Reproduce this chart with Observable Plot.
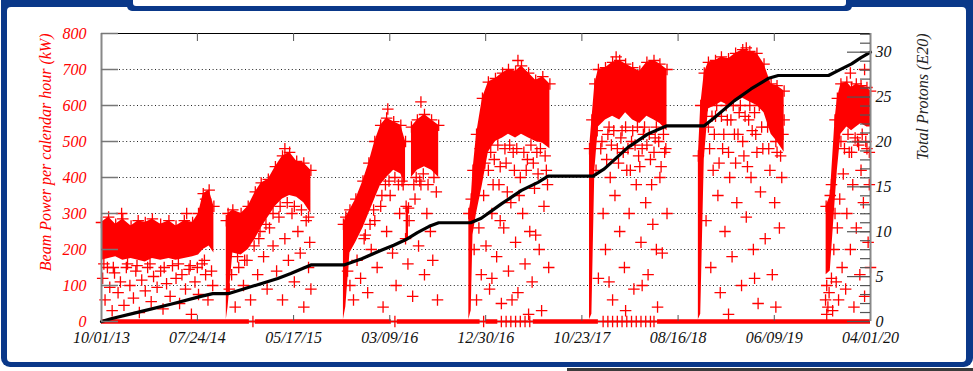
<!DOCTYPE html>
<html><head><meta charset="utf-8">
<script src="https://cdn.jsdelivr.net/npm/d3@7"></script>
<script src="https://cdn.jsdelivr.net/npm/@observablehq/plot@0.6"></script>
<style>
html,body{margin:0;padding:0;background:#fff;}
#wrap{position:relative;width:973px;height:371px;overflow:hidden;background:#fff;}
.b{position:absolute;}
#chart{position:absolute;left:0;top:0;}
</style></head><body>
<div id="wrap">
<div class="b" style="left:1px;top:-10px;width:972px;height:377px;background:#0a3889;border-radius:9px"></div>
<div class="b" style="left:7px;top:7px;width:959px;height:355px;background:#fff;border-radius:4px"></div>
<div class="b" style="left:127px;top:-8px;width:725px;height:19px;background:#0a3889;border-radius:5px"></div>
<div class="b" style="left:133px;top:-8px;width:713px;height:14px;background:#fff;border-radius:3px"></div>
<div class="b" style="left:567px;top:368px;width:406px;height:3px;background:#3b3b3b"></div>
<div id="chart"></div>
</div>
<script>
// ---- tick labels / axes values ----
const tickLabels = ["10/01/13","07/24/14","05/17/15","03/09/16","12/30/16","10/23/17","08/16/18","06/09/19","04/01/20"];
const powerTicks = [0,100,200,300,400,500,600,700,800];
const gridLevels = [100,200,300,400,500,600,700];
const protonTicks = [0,5,10,15,20,25,30];
const protonMinorTicks = [0,1,2,3,4,5,6,7,8,9,10,11,12,13,14,15,16,17,18,19,20,21,22,23,24,25,26,27,28,29,30,31,32];
const powerMax = 800;
const protonMax = 32.08;
const leftTitle = "Beam Power per calendar hour (kW)";
const rightTitle = "Total Protons (E20)";

// ---- dense beam-power core per run: [time (fractional year), low kW, high kW] ----
const run1Core = [[2013.75,170,275],[2013.81,175,290],[2013.87,180,270],[2013.93,170,285],[2014.00,175,265],[2014.06,170,280],[2014.12,165,275],[2014.18,175,285],[2014.25,170,270],[2014.32,175,280],[2014.38,170,265],[2014.45,175,280],[2014.52,180,275],[2014.57,185,300],[2014.61,200,355],[2014.66,210,365],[2014.70,190,320]];
const run2Core = [[2014.805,5,280],[2014.82,40,300],[2014.86,190,310],[2014.93,185,300],[2014.99,200,320],[2015.05,230,360],[2015.10,260,385],[2015.16,290,395],[2015.22,320,430],[2015.28,340,460],[2015.34,350,470],[2015.40,345,445],[2015.46,330,440],[2015.52,300,420]];
const run3aCore = [[2015.795,5,270],[2015.815,40,290],[2015.85,190,310],[2015.90,220,340],[2015.96,260,390],[2016.01,300,440],[2016.06,340,500],[2016.11,380,545],[2016.16,400,565],[2016.22,420,555],[2016.28,410,545],[2016.32,380,500]];
const run3bCore = [[2016.325,230,320],[2016.345,225,315]];
const run3cCore = [[2016.37,400,540],[2016.42,420,560],[2016.48,430,575],[2016.54,420,560],[2016.60,400,545]];
const run4Core = [[2016.855,5,300],[2016.875,30,340],[2016.89,240,420],[2016.92,300,520],[2016.97,380,620],[2017.02,470,665],[2017.08,500,675],[2017.14,510,690],[2017.19,520,700],[2017.25,510,695],[2017.30,520,710],[2017.36,510,690],[2017.42,500,670],[2017.48,495,680],[2017.54,480,660]];
const run5Core = [[2017.875,5,480],[2017.895,20,560],[2017.92,420,660],[2017.95,540,700],[2018.01,560,705],[2018.07,570,720],[2018.13,560,725],[2018.18,580,715],[2018.24,560,705],[2018.30,550,695],[2018.36,570,720],[2018.42,560,725],[2018.47,550,715],[2018.53,530,700]];
const run6Core = [[2018.795,5,460],[2018.815,20,600],[2018.845,450,690],[2018.88,590,720],[2018.94,600,725],[2018.99,610,735],[2019.05,600,730],[2019.11,610,745],[2019.17,620,755],[2019.23,610,750],[2019.29,600,745],[2019.35,580,715],[2019.41,520,660],[2019.46,500,655],[2019.52,470,640]];
const run7Core = [[2019.875,130,320],[2019.91,140,350],[2019.95,330,560],[2019.97,420,620],[2020.00,520,660],[2020.05,540,665],[2020.09,530,650],[2020.13,540,660],[2020.17,550,655],[2020.22,540,650],[2020.25,540,640]];

// ---- sparse beam-power points: [time, kW] ----
const run1Points = [[2013.76,120],[2013.78,60],[2013.80,150],[2013.82,95],[2013.84,30],[2013.86,135],[2013.89,80],[2013.91,110],[2013.94,45],[2013.96,150],[2013.99,100],[2014.02,65],[2014.04,140],[2014.07,25],[2014.09,115],[2014.12,85],[2014.14,150],[2014.17,55],[2014.19,125],[2014.22,95],[2014.25,140],[2014.27,35],[2014.30,105],[2014.33,70],[2014.35,155],[2014.38,120],[2014.41,50],[2014.43,130],[2014.46,90],[2014.49,145],[2014.51,20],[2014.54,110],[2014.57,75],[2014.60,160],[2014.63,130],[2014.65,60],[2014.68,140],[2014.69,100],[2013.92,300],[2014.47,300],[2014.63,340],[2013.77,160],[2013.85,150],[2013.97,160],[2014.05,155],[2014.16,160],[2014.28,150],[2014.40,160],[2014.50,155],[2014.62,170],[2014.56,150]];
const run2Points = [[2014.83,90],[2014.85,130],[2014.88,40],[2014.91,150],[2014.95,100],[2014.98,170],[2015.01,60],[2015.04,210],[2015.07,130],[2015.09,250],[2015.12,180],[2015.15,90],[2015.17,260],[2015.20,210],[2015.23,140],[2015.25,290],[2015.28,60],[2015.30,230],[2015.33,170],[2015.36,300],[2015.38,110],[2015.41,250],[2015.43,190],[2015.46,40],[2015.48,280],[2015.50,150],[2015.51,220],[2015.52,90],[2015.30,480],[2015.20,300],[2015.26,320],[2015.32,330],[2015.38,320],[2015.44,310],[2015.50,290],[2015.14,270],[2015.08,230],[2014.96,170],[2014.90,180]];
const run3Points = [[2015.83,140],[2015.85,100],[2015.88,60],[2015.91,170],[2015.94,120],[2015.97,230],[2016.00,80],[2016.03,200],[2016.06,280],[2016.08,150],[2016.11,320],[2016.13,40],[2016.16,250],[2016.19,350],[2016.21,190],[2016.24,100],[2016.27,300],[2016.30,380],[2016.32,230],[2016.34,160],[2016.35,280],[2016.38,70],[2016.40,340],[2016.43,210],[2016.45,380],[2016.48,130],[2016.50,300],[2016.53,250],[2016.55,170],[2016.58,360],[2016.59,60],[2016.17,590],[2016.45,610],[2016.12,350],[2016.15,380],[2016.18,390],[2016.23,400],[2016.26,380],[2016.29,390],[2016.39,380],[2016.41,400],[2016.44,390],[2016.47,410],[2016.51,380],[2016.56,400],[2015.98,240],[2016.02,270],[2016.05,310]];
const run4Points = [[2016.90,200],[2016.92,60],[2016.94,260],[2016.96,130],[2016.98,350],[2017.00,210],[2017.02,420],[2017.03,90],[2017.05,300],[2017.07,450],[2017.09,180],[2017.11,380],[2017.13,50],[2017.15,260],[2017.17,440],[2017.19,140],[2017.21,330],[2017.23,470],[2017.25,220],[2017.27,80],[2017.29,400],[2017.31,300],[2017.33,160],[2017.35,450],[2017.37,250],[2017.39,110],[2017.41,370],[2017.43,470],[2017.45,200],[2017.47,30],[2017.49,320],[2017.51,420],[2017.53,150],[2017.27,725],[2016.95,480],[2016.99,440],[2017.04,470],[2017.06,380],[2017.10,490],[2017.12,430],[2017.16,480],[2017.18,360],[2017.20,490],[2017.24,420],[2017.26,480],[2017.28,350],[2017.32,470],[2017.34,420],[2017.38,490],[2017.40,440],[2017.44,410],[2017.46,480],[2017.50,460],[2017.52,380],[2017.05,120],[2017.22,60],[2017.36,20],[2017.42,240],[2017.12,280]];
const run5Points = [[2017.93,420],[2017.95,120],[2017.97,480],[2017.99,300],[2018.01,200],[2018.03,520],[2018.05,400],[2018.07,60],[2018.09,350],[2018.11,480],[2018.13,250],[2018.15,530],[2018.17,150],[2018.19,420],[2018.21,300],[2018.23,500],[2018.25,90],[2018.27,380],[2018.29,460],[2018.31,220],[2018.33,520],[2018.35,330],[2018.37,130],[2018.39,450],[2018.41,270],[2018.43,510],[2018.45,40],[2018.47,400],[2018.49,190],[2018.51,470],[2018.53,300],[2018.10,735],[2017.94,530],[2017.98,500],[2018.02,450],[2018.04,540],[2018.06,490],[2018.08,530],[2018.12,440],[2018.14,510],[2018.16,470],[2018.18,540],[2018.20,480],[2018.22,420],[2018.24,530],[2018.26,490],[2018.28,540],[2018.30,430],[2018.32,480],[2018.34,540],[2018.36,490],[2018.38,520],[2018.40,380],[2018.42,470],[2018.44,540],[2018.46,500],[2018.48,430],[2018.50,520],[2018.52,480],[2018.04,110],[2018.18,30],[2018.32,100],[2018.44,200]];
const run6Points = [[2018.86,280],[2018.88,540],[2018.90,150],[2018.92,420],[2018.94,570],[2018.96,350],[2018.98,80],[2019.00,480],[2019.02,250],[2019.04,560],[2019.06,400],[2019.08,180],[2019.10,520],[2019.12,330],[2019.14,580],[2019.16,100],[2019.18,460],[2019.20,290],[2019.22,560],[2019.24,400],[2019.26,200],[2019.28,520],[2019.30,50],[2019.32,360],[2019.34,480],[2019.36,230],[2019.38,540],[2019.40,420],[2019.42,130],[2019.44,330],[2019.46,470],[2019.48,260],[2019.50,400],[2019.52,560],[2019.20,760],[2018.87,600],[2018.89,480],[2018.91,570],[2018.93,520],[2018.95,600],[2018.97,440],[2018.99,570],[2019.01,520],[2019.03,600],[2019.05,470],[2019.07,560],[2019.09,600],[2019.11,440],[2019.13,520],[2019.15,600],[2019.17,500],[2019.19,570],[2019.21,430],[2019.23,600],[2019.25,530],[2019.27,580],[2019.29,470],[2019.31,600],[2019.33,540],[2019.37,600],[2019.39,480],[2019.43,560],[2019.45,500],[2019.47,600],[2019.49,460],[2019.51,520],[2019.05,20],[2019.27,120],[2019.45,40]];
const run7Points = [[2019.87,60],[2019.88,20],[2019.88,100],[2019.89,40],[2019.90,80],[2019.92,120],[2019.93,30],[2019.94,200],[2019.96,110],[2019.97,260],[2019.98,60],[2019.99,340],[2020.01,150],[2020.02,410],[2020.04,90],[2020.05,300],[2020.07,470],[2020.08,200],[2020.10,380],[2020.11,40],[2020.13,260],[2020.14,500],[2020.16,130],[2020.17,420],[2020.19,330],[2020.20,70],[2020.22,480],[2020.23,220],[2020.24,380],[2020.25,150],[2020.20,700],[2020.08,690],[2020.00,500],[2020.03,480],[2020.06,520],[2020.09,470],[2020.12,510],[2020.15,490],[2020.18,520],[2020.21,500],[2020.24,470],[2019.92,380],[2019.95,300]];

// ---- beam-off hours (0 kW) ----
const zeroSpans = [[2013.75,2015.00],[2015.05,2016.20],[2016.25,2016.95],[2017.00,2017.10],[2017.40,2017.95],[2018.45,2020.25]];
const zeroPoints = [2015.03,2016.23,2016.98,2017.13,2017.17,2017.21,2017.25,2017.29,2017.33,2017.37,2017.99,2018.03,2018.07,2018.11,2018.15,2018.19,2018.23,2018.27,2018.31,2018.35,2018.39,2018.42];

// ---- cumulative protons on target (E20): [time, value] ----
const protonLine = [[2013.75,0],[2013.83,0.3],[2014.08,1.1],[2014.36,2.0],[2014.59,2.8],[2014.69,3.1],[2014.82,3.1],[2015.07,4.1],[2015.24,4.8],[2015.35,5.35],[2015.52,6.3],[2015.80,6.3],[2015.95,7.0],[2016.11,7.9],[2016.22,8.5],[2016.32,9.1],[2016.42,9.9],[2016.52,10.6],[2016.60,11.0],[2016.87,11.0],[2016.96,11.5],[2017.13,13.1],[2017.30,14.6],[2017.44,15.5],[2017.525,16.2],[2017.905,16.2],[2018.00,17.0],[2018.20,19.4],[2018.37,20.9],[2018.53,21.8],[2018.845,21.8],[2018.93,22.7],[2019.10,24.6],[2019.24,25.9],[2019.39,27.1],[2019.47,27.4],[2019.895,27.4],[2019.98,27.97],[2020.09,28.7],[2020.17,29.4],[2020.25,30.0]];

// ---- helpers (no data generation, only conversions) ----
const parse = d3.timeParse("%m/%d/%y");
const T0 = 2013.75, T1 = 2020.25;
const d0 = parse(tickLabels[0]), d1 = parse(tickLabels[tickLabels.length - 1]);
const toT = d => T0 + (d - d0) / (d1 - d0) * (T1 - T0);
const tickPos = tickLabels.map(s => toT(parse(s)));
const labelOf = new Map(tickPos.map((p, i) => [p, tickLabels[i]]));
const K = powerMax / protonMax;

const cores = [run1Core, run2Core, run3aCore, run3bCore, run3cCore, run4Core, run5Core, run6Core, run7Core]
  .flatMap((arr, run) => arr.map(([t, lo, hi]) => ({t, lo, hi, run})));
const points = [run1Points, run2Points, run3Points, run4Points, run5Points, run6Points, run7Points]
  .flatMap(arr => arr.map(([t, v]) => ({t, v})));

const W = 973, H = 371, mL = 101, mR = 103, mT = 33, mB = 50;
const fw = W - mL - mR, fh = H - mT - mB;
const red = "#ff0000";
const plus = {symbol: "plus", stroke: red, fill: "none", r: 3.8, strokeWidth: 1.3};

const chart = Plot.plot({
  width: W, height: H,
  marginLeft: mL, marginRight: mR, marginTop: mT, marginBottom: mB,
  style: {fontFamily: "'Liberation Serif', 'DejaVu Serif', serif", fontStyle: "italic", fontSize: "16px", background: "transparent", overflow: "visible"},
  x: {type: "linear", domain: [T0, T1]},
  y: {type: "linear", domain: [0, powerMax]},
  marks: [
    Plot.ruleY(gridLevels, {stroke: "#222", strokeDasharray: "1,2.6", strokeWidth: 1}),
    Plot.ruleY([0], {stroke: "#888", strokeWidth: 2}),
    Plot.areaY(cores, {x: "t", y1: "lo", y2: "hi", z: "run", fill: red}),
    Plot.dot(cores, {x: "t", y: "hi", ...plus}),
    Plot.dot(points, {x: "t", y: "v", ...plus}),
    Plot.ruleY(zeroSpans, {y: () => 0, x1: d => d[0], x2: d => d[1], stroke: red, strokeWidth: 4.5}),
    Plot.dot(zeroPoints, {x: d => d, y: () => 0, ...plus}),
    Plot.line(protonLine, {x: d => d[0], y: d => d[1] * K, stroke: "#000", strokeWidth: 3.2}),
    // frame
    Plot.ruleY([powerMax], {stroke: "#000", strokeWidth: 1}),
    Plot.ruleX([T0], {stroke: "#888", strokeWidth: 2}),
    Plot.ruleX([T1], {stroke: "#888", strokeWidth: 2}),
    // tick marks
    Plot.tickY(powerTicks, {y: d => d, insetRight: fw - 17, stroke: "#777", strokeWidth: 1.5}),
    Plot.tickY(protonMinorTicks, {y: d => d * K, insetLeft: fw - 10, stroke: "#555", strokeWidth: 1.2}),
    Plot.tickY(protonTicks, {y: d => d * K, insetLeft: fw - 23, stroke: "#555", strokeWidth: 1.2}),
    Plot.tickX(tickPos.slice(1, -1), {x: d => d, insetTop: fh - 6, stroke: "#555", strokeWidth: 1}),
    Plot.tickX(tickPos.slice(1, -1), {x: d => d, insetBottom: fh - 8, stroke: "#555", strokeWidth: 1}),
    // axis labels
    Plot.axisY(powerTicks, {anchor: "left", tickSize: 0, tickPadding: 15, fill: red, label: null}),
    Plot.axisY(protonTicks.map(p => p * K), {anchor: "right", tickSize: 0, tickPadding: 5, fill: "#111", label: null, tickFormat: d => String(Math.round(d / K))}),
    Plot.axisX(tickPos, {anchor: "bottom", tickSize: 0, tickPadding: 10, fill: "#111", label: null, tickFormat: d => labelOf.get(d)}),
    // titles
    Plot.text([leftTitle], {frameAnchor: "top-left", text: d => d, rotate: -90, textAnchor: "end", dx: -62, dy: 0, fill: red}),
    Plot.text([rightTitle], {frameAnchor: "top-right", text: d => d, rotate: -90, textAnchor: "end", dx: 46, dy: 0, fill: "#222"})
  ]
});
document.getElementById("chart").appendChild(chart);
</script>
</body></html>
